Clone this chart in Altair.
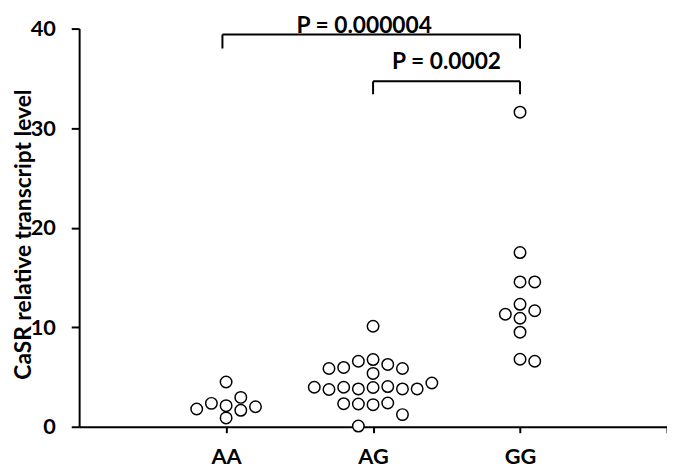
import altair as alt
import pandas as pd

# ---- data ----
aa_x = [1.0, 0.8, 0.9, 1.0, 1.1, 1.1, 1.2, 1.0]
aa_y = [4.5, 1.78, 2.35, 2.12, 2.95, 1.65, 2.01, 0.89]

ag_x = [2.0, 1.7, 1.8, 1.9, 2.0, 2.0, 2.1, 2.2,
        1.6, 1.7, 1.8, 1.9, 2.0, 2.1, 2.2, 2.3, 2.4,
        1.8, 1.9, 2.0, 2.1, 2.2, 1.9]
ag_y = [10.1, 5.85, 5.96, 6.58, 6.75, 5.36, 6.26, 5.85,
        3.97, 3.74, 3.97, 3.80, 3.94, 4.04, 3.80, 3.80, 4.40,
        2.32, 2.29, 2.22, 2.39, 1.22, 0.07]

gg_x = [3.0, 2.9, 3.0, 3.1, 3.0, 3.0, 3.1, 3.0, 3.0, 3.1, 3.0]
gg_y = [12.3, 11.3, 10.9, 11.65, 9.5, 6.78, 6.58, 17.5, 14.55, 14.55, 31.6]

categories = ["AA", "AG", "GG"]
cat_pos = [1, 2, 3]

# significance brackets: horizontal bar (x1, x2, y) and leg bottom
br_x1 = [0.975, 2.0]
br_x2 = [3.0, 3.0]
br_top = [39.4, 34.7]
br_bottom = [38.0, 33.4]
p_text = ["P = 0.000004", "P = 0.0002"]
p_x = [1.94, 2.5]
p_y = [40.3, 36.6]

# ---- tables ----
pts = pd.DataFrame({
    "x": aa_x + ag_x + gg_x,
    "y": aa_y + ag_y + gg_y,
})

horiz = pd.DataFrame({"x": br_x1, "x2": br_x2, "y": br_top})
legs = pd.DataFrame({
    "x": br_x1 + br_x2,
    "y": br_top + br_top,
    "y2": br_bottom + br_bottom,
})
labels = pd.DataFrame({"x": p_x, "y": p_y, "t": p_text})

FONT = "Lato"
xscale = alt.Scale(domain=[0, 4], nice=False, zero=False)
yscale = alt.Scale(domain=[0, 40], nice=False)

label_expr = ("datum.value == 1 ? '" + categories[0] + "' : datum.value == 2 ? '" + categories[1]
              + "' : datum.value == 3 ? '" + categories[2] + "' : ''")

xaxis = alt.Axis(values=cat_pos + [4], labelExpr=label_expr, grid=False, title=None,
                 domainColor="black", domainWidth=2, tickColor="black", tickWidth=2,
                 tickSize=6, labelFont=FONT, labelFontSize=22, labelFontWeight="bold",
                 labelColor="black", labelPadding=14)
yaxis = alt.Axis(values=[0, 10, 20, 30, 40], grid=False, title="CaSR relative transcript level",
                 domainColor="black", domainWidth=2, tickColor="black", tickWidth=2,
                 tickSize=8, labelFont=FONT, labelFontSize=22, labelFontWeight="bold",
                 labelColor="black", labelPadding=16,
                 titleFont=FONT, titleFontSize=23, titleFontWeight="bold", titleColor="black",
                 titleAngle=270, titleX=-56, titleY=208, titleAlign="center",
                 titleBaseline="middle")

points = alt.Chart(pts).mark_point(shape="circle", filled=True, fill="white",
                                   stroke="black", strokeWidth=1.5, size=135,
                                   opacity=1).encode(
    x=alt.X("x:Q", scale=xscale, axis=xaxis),
    y=alt.Y("y:Q", scale=yscale, axis=yaxis),
)

hbars = alt.Chart(horiz).mark_rule(color="black", strokeWidth=2).encode(
    x=alt.X("x:Q", scale=xscale), x2="x2:Q", y=alt.Y("y:Q", scale=yscale))
vlegs = alt.Chart(legs).mark_rule(color="black", strokeWidth=2).encode(
    x=alt.X("x:Q", scale=xscale), y=alt.Y("y:Q", scale=yscale), y2="y2:Q")
texts = alt.Chart(labels).mark_text(font=FONT, fontSize=23, fontWeight="bold",
                                    color="black", baseline="middle", align="center").encode(
    x=alt.X("x:Q", scale=xscale), y=alt.Y("y:Q", scale=yscale), text="t:N")

chart = alt.layer(hbars, vlegs, points, texts).properties(
    width=595, height=403,
    autosize=alt.AutoSizeParams(type="none"),
    padding={"left": 72, "top": 18, "right": 0, "bottom": 47},
).configure_view(stroke=None)

chart.save("out.html", embed_options={"renderer": "svg", "actions": False})
